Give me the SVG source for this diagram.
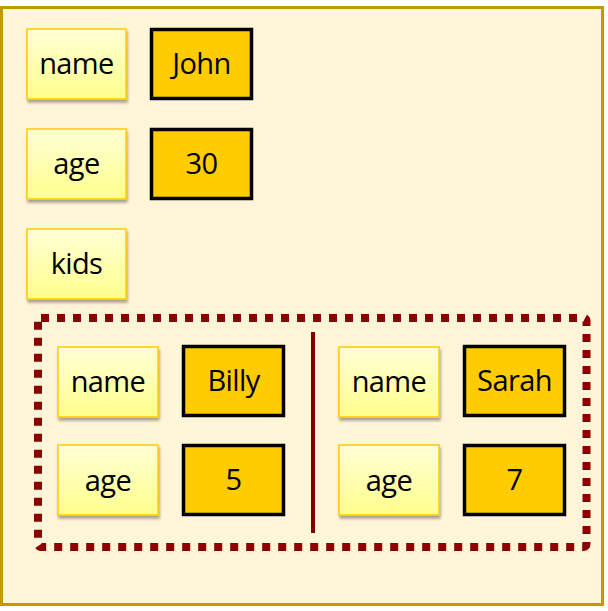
<svg xmlns="http://www.w3.org/2000/svg" width="608" height="611" viewBox="0 0 608 611">
<defs>
<linearGradient id="kg" x1="0" y1="0" x2="0" y2="1">
<stop offset="0" stop-color="#FFFFD6"/>
<stop offset="1" stop-color="#FFFF8C"/>
</linearGradient>
<filter id="sh" x="-10%" y="-10%" width="130%" height="140%">
<feGaussianBlur in="SourceAlpha" stdDeviation="1.5"/>
<feOffset dx="1" dy="3" result="o"/>
<feComponentTransfer><feFuncA type="linear" slope="0.35"/></feComponentTransfer>
<feMerge><feMergeNode/><feMergeNode in="SourceGraphic"/></feMerge>
</filter>
</defs>
<style>
.key rect{fill:url(#kg);stroke:#FFCC00;stroke-width:1.5;filter:url(#sh)}
.val rect{fill:#FFCC00;stroke:#000;stroke-width:3.5}
text{font-family:"Open Sans","Noto Sans","DejaVu Sans",sans-serif;font-size:29px;letter-spacing:-0.6px;fill:#000;text-anchor:middle}
</style>
<rect x="1.5" y="7.5" width="601" height="597" fill="#FFF6D9" stroke="#C09A00" stroke-width="3"/>

<g id="k-name"  class="key"><rect x="27" y="29" width="99" height="70"/><text x="76.5" y="74">name</text></g>
<g id="v-john"  class="val"><rect x="151.5" y="29.5" width="100" height="69"/><text x="201.5" y="74">John</text></g>
<g id="k-age"   class="key"><rect x="27" y="129" width="99" height="70"/><text x="76.5" y="174">age</text></g>
<g id="v-30"    class="val"><rect x="151.5" y="129.5" width="100" height="69"/><text x="201.5" y="174">30</text></g>
<g id="k-kids"  class="key"><rect x="27" y="229" width="99" height="70"/><text x="76.5" y="274">kids</text></g>

<g id="kids-list">
<rect x="38" y="318" width="548.5" height="229" rx="3" fill="none" stroke="#8B0000" stroke-width="8" stroke-dasharray="8 8"/>
<line x1="313" y1="332" x2="313" y2="533" stroke="#800000" stroke-width="4"/>
</g>

<g id="k-billy-name" class="key"><rect x="58" y="347" width="100" height="70"/><text x="108" y="392">name</text></g>
<g id="v-billy"      class="val"><rect x="183.5" y="346.5" width="100" height="69"/><text x="233.5" y="391">Billy</text></g>
<g id="k-billy-age"  class="key"><rect x="58" y="445" width="100" height="70"/><text x="108" y="491">age</text></g>
<g id="v-5"          class="val"><rect x="183.5" y="445.5" width="100" height="69"/><text x="233.5" y="490">5</text></g>

<g id="k-sarah-name" class="key"><rect x="339" y="347" width="100" height="70"/><text x="389" y="392">name</text></g>
<g id="v-sarah"      class="val"><rect x="464.5" y="346.5" width="100" height="69"/><text x="514.5" y="391">Sarah</text></g>
<g id="k-sarah-age"  class="key"><rect x="339" y="445" width="100" height="70"/><text x="389" y="491">age</text></g>
<g id="v-7"          class="val"><rect x="464.5" y="445.5" width="100" height="69"/><text x="514.5" y="490">7</text></g>
</svg>
